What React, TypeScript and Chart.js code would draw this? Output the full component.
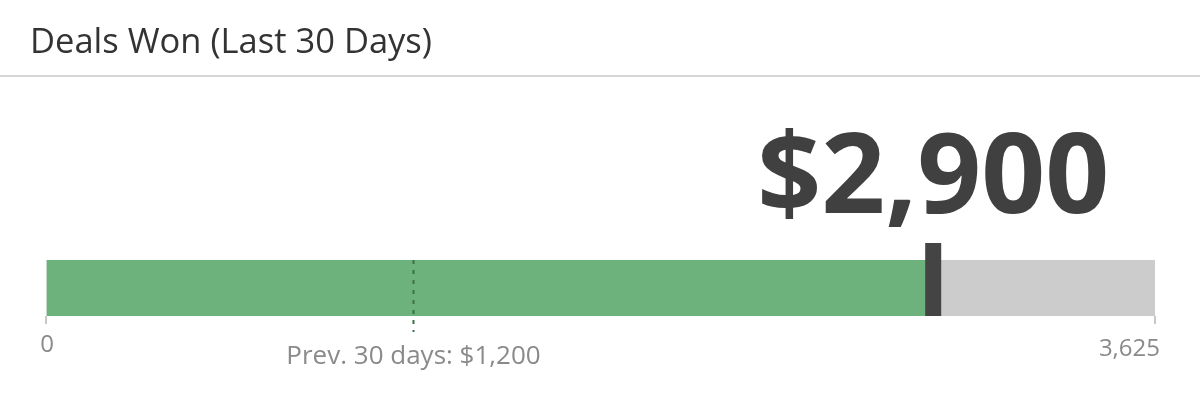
import React, { useEffect, useRef } from 'react';
import { Chart, registerables } from 'chart.js';

Chart.register(...registerables);

const title = 'Deals Won (Last 30 Days)';
const categories = ['Deals Won'];
const currentValues = [2900];
const previousValues = [1200];
const maxValues = [3625];
const tickValues = [0, 3625];
const prevLabelPrefix = 'Prev. 30 days: ';

const fmt = (v: number) => v.toLocaleString('en-US');

const FONT = '"Open Sans", "Noto Sans", sans-serif';

// draws the target marker, previous-period line and the labels
const bulletPlugin = {
  id: 'bulletExtras',
  afterDatasetsDraw(chart: any) {
    const { ctx, chartArea, scales } = chart;
    const x = scales.x;
    const cur = currentValues[0];
    const prev = previousValues[0];

    // previous period dashed line
    const px = Math.round(x.getPixelForValue(prev)) + 0.5;
    ctx.save();
    ctx.strokeStyle = '#3f6e4a';
    ctx.lineWidth = 2;
    ctx.setLineDash([4, 6]);
    ctx.beginPath();
    ctx.moveTo(px, chartArea.top);
    ctx.lineTo(px, chartArea.bottom + 16);
    ctx.stroke();
    ctx.restore();

    // current value marker
    const cx = x.getPixelForValue(cur);
    ctx.save();
    ctx.fillStyle = '#444444';
    ctx.fillRect(cx - 8, chartArea.top - 17, 16, chartArea.bottom - chartArea.top + 17);

    // big value
    ctx.fillStyle = '#404040';
    ctx.font = `bold 112px ${FONT}`;
    ctx.textAlign = 'center';
    ctx.textBaseline = 'alphabetic';
    ctx.fillText('$' + fmt(cur), cx, chartArea.top - 47);

    // axis labels
    ctx.fillStyle = '#8a8a8a';
    ctx.font = `24px ${FONT}`;
    ctx.textAlign = 'center';
    ctx.fillText(fmt(tickValues[0]), x.getPixelForValue(tickValues[0]) + 1, chartArea.bottom + 36);
    ctx.textAlign = 'right';
    ctx.fillText(fmt(tickValues[1]), x.getPixelForValue(tickValues[1]) + 5, chartArea.bottom + 40);
    ctx.textAlign = 'center';
    ctx.font = `26px ${FONT}`;
    ctx.fillText(prevLabelPrefix + '$' + fmt(prev), px, chartArea.bottom + 48);
    ctx.restore();
  },
};

const BulletChart: React.FC = () => {
  const canvasRef = useRef<HTMLCanvasElement>(null);
  const chartRef = useRef<Chart | null>(null);

  useEffect(() => {
    if (!canvasRef.current) return;
    if (chartRef.current) chartRef.current.destroy();

    chartRef.current = new Chart(canvasRef.current, {
      type: 'bar',
      data: {
        labels: categories,
        datasets: [
          {
            label: 'Current',
            data: currentValues,
            backgroundColor: '#6db27c',
            grouped: false,
            order: 1,
            barPercentage: 1,
            categoryPercentage: 1,
          } as any,
          {
            label: 'Range',
            data: maxValues,
            backgroundColor: '#cccccc',
            grouped: false,
            order: 2,
            barPercentage: 1,
            categoryPercentage: 1,
          } as any,
        ],
      },
      options: {
        indexAxis: 'y',
        animation: false,
        responsive: true,
        maintainAspectRatio: false,
        layout: { padding: { top: 260, left: 46, right: 45, bottom: 81 } },
        plugins: {
          legend: { display: false },
          tooltip: { enabled: false },
        },
        scales: {
          y: { display: false },
          x: {
            min: 0,
            max: maxValues[0],
            afterBuildTicks: (axis: any) => {
              axis.ticks = tickValues.map((v) => ({ value: v }));
            },
            border: { display: false },
            grid: {
              drawOnChartArea: false,
              drawTicks: true,
              tickLength: 8,
              color: '#c8c8c8',
              lineWidth: 2,
            },
            ticks: { display: false },
          },
        },
      },
      plugins: [bulletPlugin],
    });

    return () => {
      if (chartRef.current) {
        chartRef.current.destroy();
        chartRef.current = null;
      }
    };
  }, []);

  return (
    <div style={{ position: 'absolute', left: 0, top: 0, width: 1200, height: 405, background: '#fff' }}>
      <canvas ref={canvasRef} />
    </div>
  );
};

export default function App() {
  return (
    <div style={{ position: 'absolute', left: 0, top: 0, width: 1200, height: 405, background: '#fff' }}>
      <BulletChart />
      <div
        style={{
          position: 'absolute',
          left: 0,
          top: 0,
          width: 1200,
          height: 77,
          borderBottom: '2px solid #d6d6d6',
          boxSizing: 'border-box',
          fontFamily: FONT,
          fontSize: 34.5,
          color: '#333',
          paddingLeft: 30,
          lineHeight: '80px',
        }}
      >
        {title}
      </div>
    </div>
  );
}
